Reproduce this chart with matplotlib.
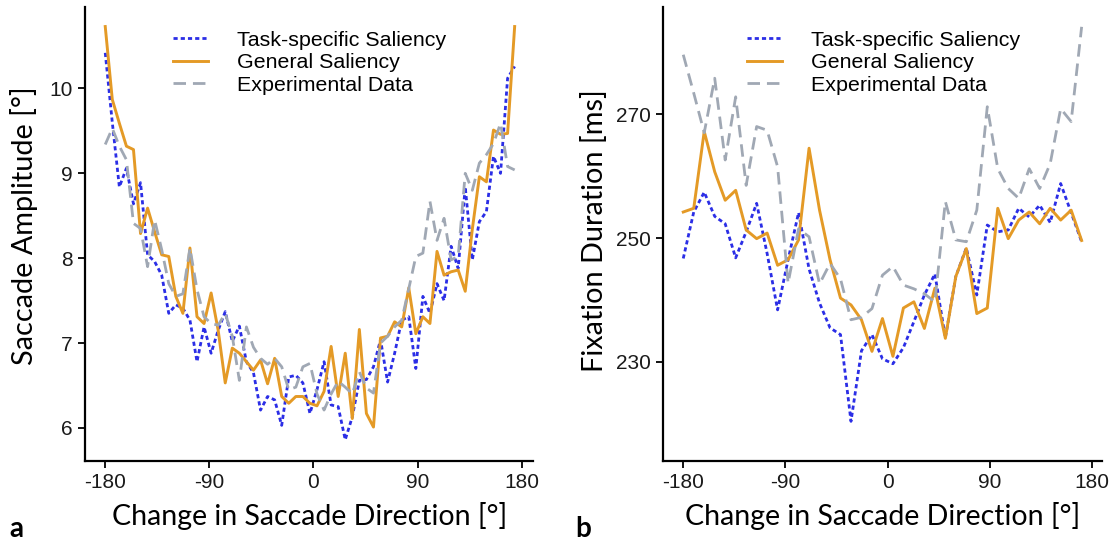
from matplotlib import pyplot as plt
import numpy as np

# panel a: saccade amplitude, 59 direction bins
n_a = 59
amp_task = [10.42, 9.60, 8.84, 9.06, 8.64, 8.89, 8.04, 7.96, 7.80, 7.35,
            7.45, 7.41, 7.27, 6.78, 7.19, 6.88, 7.15, 7.37, 7.02, 7.20,
            6.78, 6.65, 6.21, 6.37, 6.33, 6.03, 6.60, 6.62, 6.53, 6.17,
            6.45, 6.78, 6.27, 6.25, 5.86, 6.13, 6.56, 6.57, 6.72, 7.04,
            6.54, 6.88, 7.27, 7.31, 6.70, 7.55, 7.35, 7.70, 7.50, 8.14,
            7.88, 8.84, 7.98, 8.43, 8.55, 9.20, 9.00, 10.12, 10.26]
amp_general = [10.73, 9.87, 9.59, 9.32, 9.28, 8.29, 8.59, 8.31, 8.04, 8.02,
               7.55, 7.35, 8.12, 7.31, 7.23, 7.59, 7.15, 6.53, 6.94, 6.88,
               6.78, 6.68, 6.80, 6.52, 6.82, 6.37, 6.29, 6.37, 6.37, 6.29,
               6.26, 6.43, 6.96, 6.37, 6.88, 6.11, 7.16, 6.17, 6.01, 7.06,
               7.08, 7.25, 7.19, 7.65, 7.11, 7.31, 7.23, 8.08, 7.80, 7.84,
               7.86, 7.61, 8.34, 8.96, 8.90, 9.51, 9.46, 9.47, 10.73]
amp_exp = [9.34, 9.53, 9.32, 9.16, 8.41, 8.35, 7.90, 8.45, 8.10, 7.70,
           7.55, 7.58, 8.12, 7.63, 7.31, 7.23, 7.21, 7.35, 7.08, 6.56,
           7.19, 6.95, 6.82, 6.75, 6.82, 6.72, 6.45, 6.48, 6.72, 6.76,
           6.40, 6.21, 6.40, 6.55, 6.48, 6.40, 6.66, 6.47, 6.41, 7.00,
           7.08, 7.19, 7.27, 7.64, 8.02, 8.06, 8.67, 8.21, 8.47, 7.98,
           8.02, 9.00, 8.80, 9.12, 9.22, 9.35, 9.59, 9.08, 9.04]

# panel b: fixation duration, 39 direction bins
n_b = 39
dur_task = [246.7, 254.2, 257.4, 253.5, 252.3, 246.8, 251.0, 255.6, 247.5, 238.4,
            246.5, 254.1, 245.0, 239.5, 235.5, 234.4, 220.4, 231.8, 234.4, 230.5,
            229.7, 232.3, 236.5, 240.8, 244.2, 233.9, 243.8, 248.4, 240.8, 252.1,
            251.0, 251.3, 254.8, 253.4, 255.3, 252.5, 258.8, 254.1, 249.4]
dur_general = [254.2, 254.8, 267.2, 260.7, 256.1, 257.7, 251.3, 249.9, 250.8, 245.6,
               246.5, 249.7, 264.5, 254.5, 246.5, 240.3, 239.2, 236.8, 231.7, 237.0,
               230.9, 238.7, 239.7, 235.4, 241.9, 233.8, 243.8, 248.3, 237.8, 238.7,
               254.8, 249.9, 252.9, 254.2, 252.3, 254.8, 252.9, 254.5, 249.6]
dur_exp = [279.6, 273.4, 267.0, 275.8, 262.6, 272.8, 258.5, 268.0, 267.4, 261.5,
           242.7, 251.5, 250.2, 242.6, 245.9, 243.4, 236.8, 237.2, 238.6, 244.0,
           245.4, 242.4, 241.8, 241.0, 239.7, 255.9, 249.7, 249.4, 254.5, 271.2,
           261.2, 258.0, 256.4, 261.2, 258.0, 262.0, 270.9, 268.8, 284.1]

labels = ['Task-specific Saliency', 'General Saliency', 'Experimental Data']
xticks = [-180, -90, 0, 90, 180]

x_a = -180 + np.arange(n_a) * 360 / n_a
x_b = -180 + np.arange(n_b) * 360 / n_b

c_task = '#2b2ee6'
c_gen = '#e49a26'
c_exp = '#a0a8b4'

fig = plt.figure()
fig.set_size_inches(11.11, 5.44)
ax1 = fig.add_axes([0.0765, 0.1526, 0.4035, 0.8345])
ax2 = fig.add_axes([0.597, 0.1526, 0.395, 0.8345])

def draw(ax, x, task, gen, exp):
    ax.plot(x, task, color=c_task, lw=2.0, dashes=(1.5, 1.1), label=labels[0])
    ax.plot(x, gen, color=c_gen, lw=2.1, label=labels[1])
    ax.plot(x, exp, color=c_exp, lw=2.0, dashes=(4.5, 2.5), label=labels[2])
    for s in ['top', 'right']:
        ax.spines[s].set_visible(False)
    for s in ['left', 'bottom']:
        ax.spines[s].set_linewidth(1.6)
    ax.tick_params(length=5, width=1.3, labelsize=15, labelcolor='#1a1a1a',
                   pad=4)
    ax.set_xticks(xticks)
    ax.set_xticklabels([str(v) for v in xticks], family='Liberation Sans')
    ax.set_xlabel('Change in Saccade Direction [°]', family='Lato', fontsize=20.5)
    ax.legend(loc='upper left', frameon=False,
              handlelength=1.65, handletextpad=1.35, labelspacing=0.17,
              borderaxespad=0, borderpad=0,
              prop={'family': 'Liberation Sans', 'size': 15.4})

draw(ax1, x_a, amp_task, amp_general, amp_exp)
ax1.set_xlim(-197.5, 190)
ax1.set_ylim(5.61, 10.96)
ax1.set_yticks([6, 7, 8, 9, 10])
ax1.set_yticklabels(['6', '7', '8', '9', '10'], family='Liberation Sans')
ax1.set_ylabel('Saccade Amplitude [°]', family='Lato', fontsize=20.8)
ax1.get_legend().set_bbox_to_anchor((0.196, 0.948))
ax1.xaxis.set_label_coords(0.5, -0.09)
ax1.yaxis.set_label_coords(-0.105, 0.518)

draw(ax2, x_b, dur_task, dur_general, dur_exp)
ax2.set_xlim(-197.6, 188.8)
ax2.set_ylim(214.0, 287.3)
ax2.set_yticks([230, 250, 270])
ax2.set_yticklabels(['230', '250', '270'], family='Liberation Sans')
ax2.set_ylabel('Fixation Duration [ms]', family='Lato', fontsize=20.8)
ax2.get_legend().set_bbox_to_anchor((0.191, 0.948))
ax2.xaxis.set_label_coords(0.5, -0.09)
ax2.yaxis.set_label_coords(-0.125, 0.508)

fig.text(0.008, 0.013, 'a', family='Lato', fontweight='bold', fontsize=20)
fig.text(0.518, 0.013, 'b', family='Lato', fontweight='bold', fontsize=20)

fig.savefig('out.png', dpi=100)
